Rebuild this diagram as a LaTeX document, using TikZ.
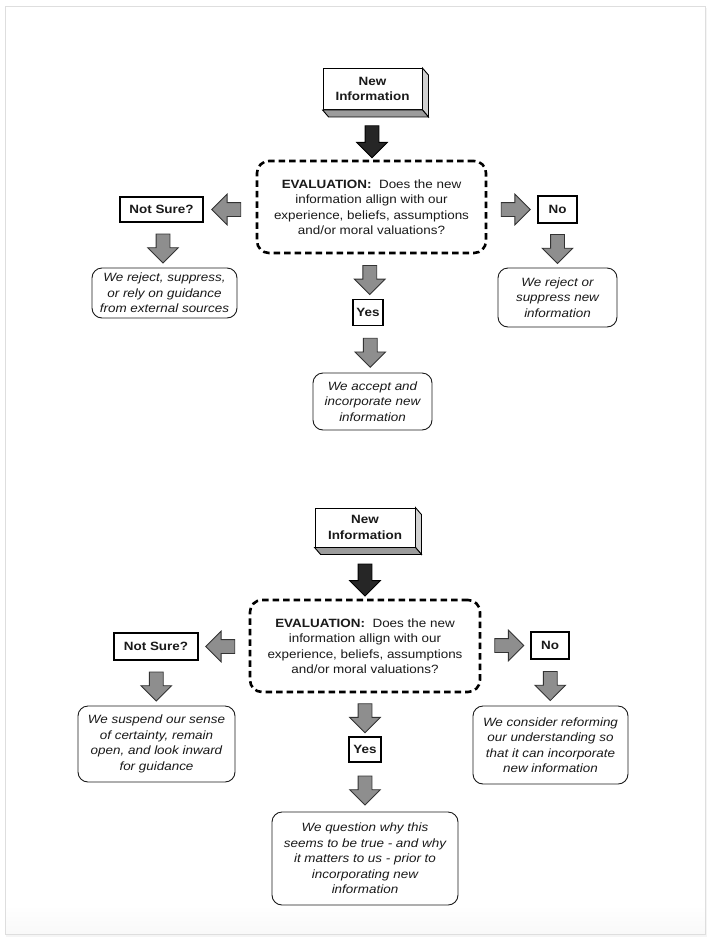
\documentclass[tikz,border=0pt]{standalone}
\usepackage{fontspec}
\setmainfont{Liberation Sans}[FakeStretch=1.12]
\usepackage{tikz}
\usetikzlibrary{positioning,shapes.arrows,calc}
\definecolor{ink}{HTML}{1A1A1A}
\definecolor{arrowfill}{HTML}{8E8E8E}
\definecolor{arrowline}{HTML}{333333}
\definecolor{darkfill}{HTML}{262626}
\definecolor{sideface}{HTML}{D2D2D2}
\definecolor{bottomface}{HTML}{9C9C9C}
\newcommand{\diagfont}{\fontsize{12}{15.5}\selectfont}
\tikzset{
  newbox/.style={rectangle, draw, line width=0.9pt, fill=white, text=ink, font=\bfseries\diagfont, align=center, inner sep=2pt, minimum width=99pt, minimum height=41pt},
  evalbox/.style={rectangle, draw, line width=2.6pt, dash pattern=on 6.5pt off 4pt, rounded corners=12pt, text=ink, font=\diagfont, align=center, minimum width=229pt, minimum height=92pt},
  choicebox/.style={rectangle, draw, line width=1.3pt, fill=white, text=ink, font=\bfseries\diagfont, inner sep=2pt},
  outcome/.style={rectangle, draw=ink, line width=0.9pt, rounded corners=10pt, text=ink, font=\itshape\diagfont, align=center, inner sep=2pt},
  blockarrow/.style={single arrow, draw=arrowline, fill=arrowfill, line width=0.8pt, inner sep=6.5pt, minimum height=29pt, single arrow head extend=8.5pt},
  darkarrow/.style={blockarrow, draw=black, fill=darkfill, minimum height=32pt},
  pointdown/.style={shape border rotate=270},
  pointleft/.style={shape border rotate=180},
}

\begin{document}
\begin{tikzpicture}[x=1pt, y=-1pt]
  \useasboundingbox (0,0) rectangle (710,940);
  % page
  \fill[black!4] (6,8) rectangle (707,937);
  \fill[white] (5,6) rectangle (705,934);
  \shade[top color=white, bottom color=black!2.5] (5,905) rectangle (705,934);
  \draw[black!13] (5,6) rectangle (705,934);

  % first flow
  \node[newbox] (new1) at (372.5,89) {New\\Information};
  \node[evalbox] (eval1) at (371.5,207) {\textbf{EVALUATION:}\ \ Does the new\\information allign with our\\experience, beliefs, assumptions\\and/or moral valuations?};
  \node[choicebox, minimum width=83pt, minimum height=25pt] (unsure1) at (161.5,209.5) {Not Sure?};
  \node[choicebox, minimum width=39pt, minimum height=27pt] (no1) at (557.5,209.5) {No};
  \node[choicebox, minimum width=30pt, minimum height=26pt] (yes1) at (368,312.5) {Yes};
  \node[outcome, minimum width=145pt, minimum height=50pt] (outunsure1) at (164.5,293) {We reject, suppress,\\or rely on guidance\\from external sources};
  \node[outcome, minimum width=119pt, minimum height=59pt] (outno1) at (557.5,297.5) {We reject or\\suppress new\\information};
  \node[outcome, minimum width=119pt, minimum height=57pt] (outyes1) at (372.5,401.5) {We accept and\\incorporate new\\information};

  % second flow
  \node[newbox, minimum width=100pt, minimum height=39pt] (new2) at (365,527.5) {New\\Information};
  \node[evalbox, minimum width=230pt] (eval2) at (365,646) {\textbf{EVALUATION:}\ \ Does the new\\information allign with our\\experience, beliefs, assumptions\\and/or moral valuations?};
  \node[choicebox, minimum width=84pt, minimum height=27pt] (unsure2) at (156,646.5) {Not Sure?};
  \node[choicebox, minimum width=38pt, minimum height=27pt] (no2) at (550,645.5) {No};
  \node[choicebox, minimum width=32pt, minimum height=25pt] (yes2) at (365,749.5) {Yes};
  \node[outcome, minimum width=157pt, minimum height=76pt] (outunsure2) at (156.5,744) {We suspend our sense\\of certainty, remain\\open, and look inward\\for guidance};
  \node[outcome, minimum width=155pt, minimum height=78pt] (outno2) at (550.5,745) {We consider reforming\\our understanding so\\that it can incorporate\\new information};
  \node[outcome, minimum width=186pt, minimum height=93pt] (outyes2) at (365,858.5) {We question why this\\seems to be true - and why\\it matters to us - prior to\\incorporating new\\information};

  % raised edges of the input boxes
  \foreach \b in {new1,new2} {
    \draw[line width=0.9pt, fill=sideface] (\b.north east) -- ++(6,7) -- ([shift={(6,7)}]\b.south east) -- (\b.south east) -- cycle;
    \draw[line width=0.9pt, fill=bottomface] (\b.south west) -- ++(6,7) -- ([shift={(6,7)}]\b.south east) -- (\b.south east) -- cycle;
  }

  % block arrows
  \foreach \n in {1,2} {
    \path ([shift={(0,7)}]new\n.south) -- (eval\n.north) node[darkarrow, pointdown, midway] (in\n) {};
    \path (eval\n.west |- unsure\n) -- (unsure\n.east) node[blockarrow, pointleft, midway] (toleft\n) {};
    \path (eval\n.east |- no\n) -- (no\n.west) node[blockarrow, midway] (toright\n) {};
    \path (eval\n.south) -- (yes\n.north) node[blockarrow, pointdown, midway] (toyes\n) {};
    \path (unsure\n.south) -- (outunsure\n.north) node[blockarrow, pointdown, midway] (fromunsure\n) {};
    \path (no\n.south) -- (outno\n.north) node[blockarrow, pointdown, midway] (fromno\n) {};
    \path (yes\n.south) -- (outyes\n.north) node[blockarrow, pointdown, midway] (fromyes\n) {};
  }
\end{tikzpicture}
\end{document}
